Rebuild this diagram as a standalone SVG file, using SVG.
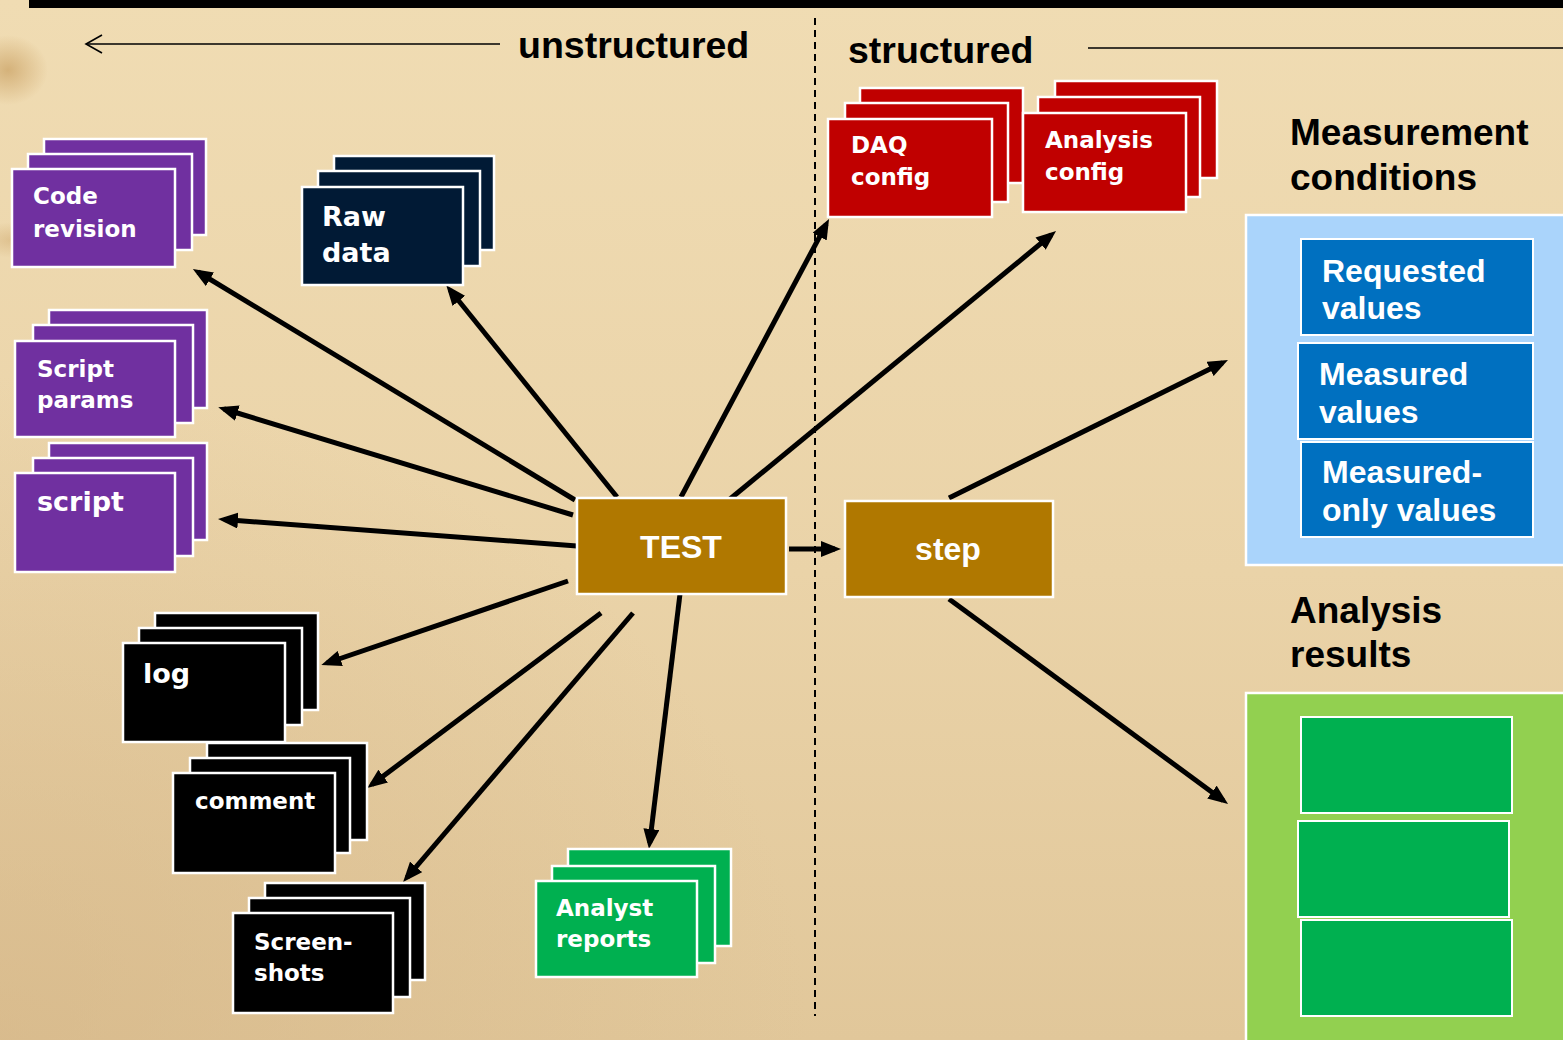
<svg xmlns="http://www.w3.org/2000/svg" width="1563" height="1040" viewBox="0 0 1563 1040">
  <defs>
    <linearGradient id="paper" x1="0" y1="0" x2="0" y2="1">
      <stop offset="0" stop-color="#f0dcb3"/>
      <stop offset="0.55" stop-color="#ead3a8"/>
      <stop offset="1" stop-color="#e1c79a"/>
    </linearGradient>
    <radialGradient id="smudge" cx="0.5" cy="0.5" r="0.5">
      <stop offset="0" stop-color="#c9a062" stop-opacity="0.7"/>
      <stop offset="1" stop-color="#c9a062" stop-opacity="0"/>
    </radialGradient>
    <radialGradient id="shade" cx="0" cy="1" r="0.9">
      <stop offset="0" stop-color="#d2b283" stop-opacity="0.55"/>
      <stop offset="1" stop-color="#d2b283" stop-opacity="0"/>
    </radialGradient>
    <marker id="head" viewBox="0 0 20 16" markerUnits="userSpaceOnUse" markerWidth="20" markerHeight="16" refX="14" refY="8" orient="auto">
      <path d="M0,0 L20,8 L0,16 z" fill="#000"/>
    </marker>
    <style>
      .card { stroke: #ffffff; stroke-width: 2.5; }
      .purple { fill: #7030a0; }
      .navy { fill: #011a35; }
      .black { fill: #000000; }
      .red { fill: #c00000; }
      .green { fill: #00b050; }
      .lbl { font-family: "DejaVu Sans", "Liberation Sans", sans-serif; font-weight: bold; fill: #ffffff; font-size: 23px; }
      .lbl.big { font-size: 27px; }
      .hdr { font-family: "Liberation Sans", Arial, sans-serif; font-weight: bold; fill: #000000; font-size: 37px; }
      .hdr.top { font-size: 37.5px; }
      .blue-lbl { font-family: "Liberation Sans", Arial, sans-serif; font-weight: bold; fill: #ffffff; font-size: 32px; }
      .core { fill: #b07800; stroke: #ffffff; stroke-width: 2.5; }
      .core-lbl { font-family: "Liberation Sans", Arial, sans-serif; font-weight: bold; fill: #ffffff; font-size: 32px; text-anchor: middle; }
      .conn { stroke: #000; stroke-width: 5; fill: none; marker-end: url(#head); }
    </style>
  </defs>

  <!-- parchment background -->
  <rect x="0" y="0" width="1563" height="1040" fill="url(#paper)"/>
  <rect x="0" y="300" width="900" height="740" fill="url(#shade)"/>
  <ellipse cx="8" cy="70" rx="40" ry="35" fill="url(#smudge)"/>
  <ellipse cx="12" cy="240" rx="35" ry="18" fill="url(#smudge)" opacity="0.6"/>

  <!-- top bar -->
  <rect x="29" y="0" width="1534" height="8" fill="#000"/>

  <!-- section headings -->
  <g id="unstructured-heading">
    <line x1="500" y1="44" x2="86" y2="44" stroke="#000" stroke-width="1.6"/>
    <polyline points="102,35 86,44 102,53" fill="none" stroke="#000" stroke-width="1.6"/>
    <text x="518" y="58" class="hdr top">unstructured</text>
  </g>
  <g id="structured-heading">
    <text x="848" y="63" class="hdr top">structured</text>
    <line x1="1088" y1="48" x2="1563" y2="48" stroke="#000" stroke-width="1.6"/>
  </g>
  <line id="divider" x1="815" y1="18" x2="815" y2="1016" stroke="#000" stroke-width="2" stroke-dasharray="7,5"/>

  <!-- connectors -->
  <g id="connectors">
    <line class="conn" x1="575" y1="500" x2="198" y2="272"/>
    <line class="conn" x1="617" y1="497" x2="450" y2="290"/>
    <line class="conn" x1="573" y1="515" x2="224" y2="409"/>
    <line class="conn" x1="577" y1="546" x2="224" y2="519.5"/>
    <line class="conn" x1="568" y1="581" x2="327" y2="663"/>
    <line class="conn" x1="601" y1="613" x2="372" y2="784.5"/>
    <line class="conn" x1="633" y1="613" x2="407" y2="877.5"/>
    <line class="conn" x1="680" y1="594" x2="649.7" y2="843"/>
    <line class="conn" x1="681" y1="497" x2="826.2" y2="224.3"/>
    <line class="conn" x1="730" y1="499" x2="1051.4" y2="234.8"/>
    <line class="conn" x1="949" y1="498" x2="1222.6" y2="362.7"/>
    <line class="conn" x1="949" y1="599" x2="1223.2" y2="800.4"/>
    <line class="conn" x1="789" y1="549" x2="835" y2="549"/>
  </g>

  <!-- unstructured artefacts -->
  <g id="code-revision">
    <rect class="card purple" x="44" y="139" width="162" height="96"/>
    <rect class="card purple" x="28" y="154" width="164" height="96"/>
    <rect class="card purple" x="12" y="169" width="163" height="98"/>
    <text class="lbl" x="33" y="204">Code</text>
    <text class="lbl" x="33" y="237">revision</text>
  </g>
  <g id="raw-data">
    <rect class="card navy" x="334" y="156" width="160" height="94"/>
    <rect class="card navy" x="318" y="171" width="162" height="95"/>
    <rect class="card navy" x="302" y="187" width="161" height="98"/>
    <text class="lbl big" x="322" y="226">Raw</text>
    <text class="lbl big" x="322" y="262">data</text>
  </g>
  <g id="script-params">
    <rect class="card purple" x="49" y="310" width="158" height="98"/>
    <rect class="card purple" x="33" y="325" width="160" height="98"/>
    <rect class="card purple" x="15" y="341" width="160" height="96"/>
    <text class="lbl" x="37" y="377">Script</text>
    <text class="lbl" x="37" y="408">params</text>
  </g>
  <g id="script">
    <rect class="card purple" x="49" y="443" width="158" height="97"/>
    <rect class="card purple" x="33" y="458" width="160" height="98"/>
    <rect class="card purple" x="15" y="473" width="160" height="99"/>
    <text class="lbl big" x="37" y="511">script</text>
  </g>
  <g id="log">
    <rect class="card black" x="155" y="613" width="163" height="97"/>
    <rect class="card black" x="139" y="628" width="163" height="97"/>
    <rect class="card black" x="123" y="643" width="162" height="99"/>
    <text class="lbl big" x="143" y="683">log</text>
  </g>
  <g id="comment">
    <rect class="card black" x="207" y="743" width="160" height="97"/>
    <rect class="card black" x="190" y="758" width="160" height="95"/>
    <rect class="card black" x="173" y="773" width="162" height="100"/>
    <text class="lbl" x="195" y="809">comment</text>
  </g>
  <g id="screenshots">
    <rect class="card black" x="265" y="883" width="160" height="97"/>
    <rect class="card black" x="249" y="898" width="161" height="99"/>
    <rect class="card black" x="233" y="913" width="160" height="100"/>
    <text class="lbl" x="254" y="950">Screen-</text>
    <text class="lbl" x="254" y="981">shots</text>
  </g>
  <g id="analyst-reports">
    <rect class="card green" x="568" y="849" width="163" height="97"/>
    <rect class="card green" x="552" y="866" width="163" height="97"/>
    <rect class="card green" x="536" y="881" width="161" height="96"/>
    <text class="lbl" x="556" y="916">Analyst</text>
    <text class="lbl" x="556" y="947">reports</text>
  </g>

  <!-- central nodes -->
  <g id="test">
    <rect class="core" x="577" y="498" width="209" height="96"/>
    <text class="core-lbl" x="681" y="558">TEST</text>
  </g>
  <g id="step">
    <rect class="core" x="845" y="501" width="208" height="96"/>
    <text class="core-lbl" x="948" y="560">step</text>
  </g>

  <!-- structured artefacts -->
  <g id="daq-config">
    <rect class="card red" x="860" y="88" width="163" height="95"/>
    <rect class="card red" x="845" y="103" width="163" height="99"/>
    <rect class="card red" x="828" y="119" width="164" height="98"/>
    <text class="lbl" x="851" y="153">DAQ</text>
    <text class="lbl" x="851" y="185">config</text>
  </g>
  <g id="analysis-config">
    <rect class="card red" x="1055" y="81" width="162" height="97"/>
    <rect class="card red" x="1038" y="97" width="162" height="100"/>
    <rect class="card red" x="1023" y="113" width="163" height="99"/>
    <text class="lbl" x="1045" y="148">Analysis</text>
    <text class="lbl" x="1045" y="180">config</text>
  </g>

  <!-- measurement conditions -->
  <g id="measurement-conditions">
    <text class="hdr" x="1290" y="145">Measurement</text>
    <text class="hdr" x="1290" y="190">conditions</text>
    <rect x="1246" y="215" width="330" height="350" fill="#aad4fb" stroke="#ffffff" stroke-width="2.5"/>
    <g id="requested-values">
      <rect x="1301" y="239" width="232" height="96" fill="#0070c0" stroke="#fff" stroke-width="2"/>
      <text class="blue-lbl" x="1322" y="282">Requested</text>
      <text class="blue-lbl" x="1322" y="319">values</text>
    </g>
    <g id="measured-values">
      <rect x="1298" y="343" width="235" height="96" fill="#0070c0" stroke="#fff" stroke-width="2"/>
      <text class="blue-lbl" x="1319" y="385">Measured</text>
      <text class="blue-lbl" x="1319" y="423">values</text>
    </g>
    <g id="measured-only-values">
      <rect x="1301" y="442" width="232" height="95" fill="#0070c0" stroke="#fff" stroke-width="2"/>
      <text class="blue-lbl" x="1322" y="483">Measured-</text>
      <text class="blue-lbl" x="1322" y="521">only values</text>
    </g>
  </g>

  <!-- analysis results -->
  <g id="analysis-results">
    <text class="hdr" x="1290" y="623">Analysis</text>
    <text class="hdr" x="1290" y="667">results</text>
    <rect x="1246" y="693" width="330" height="360" fill="#92d050" stroke="#ffffff" stroke-width="2.5"/>
    <rect x="1301" y="717" width="211" height="96" fill="#00b050" stroke="#fff" stroke-width="2"/>
    <rect x="1298" y="821" width="211" height="96" fill="#00b050" stroke="#fff" stroke-width="2"/>
    <rect x="1301" y="920" width="211" height="96" fill="#00b050" stroke="#fff" stroke-width="2"/>
  </g>
</svg>
